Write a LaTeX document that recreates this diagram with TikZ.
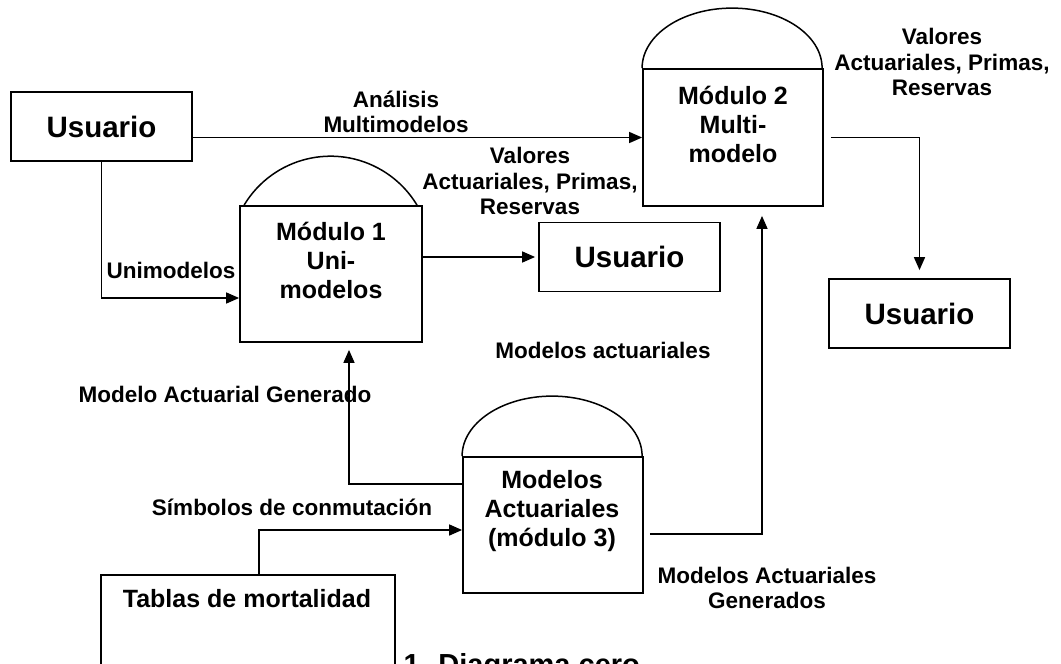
\documentclass[tikz,border=0pt]{standalone}
\usepackage{fontspec}
\setmainfont{Liberation Sans}
\usetikzlibrary{arrows.meta}

\tikzset{
  lab/.style={font=\bfseries\fontsize{22.5}{25.5}\selectfont, align=center, inner sep=0pt},
  userbox/.style={draw, line width=1.8pt, minimum width=181pt, minimum height=69pt, font=\bfseries\fontsize{29.5}{34}\selectfont},
  modbox/.style={draw, line width=1.8pt, minimum width=180pt, minimum height=136pt},
  modtext/.style={font=\bfseries\fontsize{25}{29}\selectfont, align=center, inner sep=0pt},
  flow/.style={line width=1.6pt, -{Triangle[length=13pt,width=11pt]}},
}

\begin{document}
\begin{tikzpicture}[x=1pt, y=-1pt]
	\useasboundingbox (0,0) rectangle (1061,664);
	
	% usuarios
	\node[userbox] (u1) at (101.5,126.5) {Usuario};
	\node[userbox] (u2) at (629.5,257) {Usuario};
	\node[userbox] (u3) at (919.5,313.5) {Usuario};
	
	% modulos
	\node[modbox, minimum width=182pt] (m1) at (331,274) {};
	\node[modtext] (m1txt) at (331,260) {Módulo 1\\Uni-\\modelos};
	\draw[line width=1.5pt] (m1.north west) ++(5,0) arc[start angle=149, end angle=31, radius=100.85pt];
	
	\node[modbox, minimum height=137pt] (m2) at (733,137.5) {};
	\node[modtext] (m2txt) at (733,124) {Módulo 2\\Multi-\\modelo};
	\draw[line width=1.5pt] (m2.north west) arc[start angle=180, end angle=0, x radius=90pt, y radius=60pt];
	
	\node[modbox] (m3) at (553,525) {};
	\node[modtext] (m3txt) at (552,511) {Modelos\\Actuariales\\(módulo 3)};
	\draw[line width=1.5pt] (m3.north west) arc[start angle=180, end angle=0, x radius=90pt, y radius=60pt];
	
	% tablas
	\node[anchor=base west, font=\bfseries\fontsize{29}{33}\selectfont] (cap) at (400,674) {1. Diagrama cero};
	\node[draw, fill=white, line width=1.8pt, minimum width=294pt, minimum height=130pt, anchor=north] (tab) at (248,574) {};
	\node[modtext] (tabtxt) at (247,599) {Tablas de mortalidad};
	
	% flujos
	\draw[flow] (u1.east |- m2.west) -- (m2.west);
	\draw[flow] (u1.south) |- ([yshift=-24pt]m1.west);
	\draw[flow, shorten >=3pt] (m1.east |- u2.west) -- (u2.west);
	\draw[flow, shorten <=7pt, shorten >=8pt] (m2.east) -| (u3.north);
	\draw[flow, shorten <=6pt, shorten >=9pt] ([yshift=-9pt]m3.east) -| ([xshift=29pt]m2.south);
	\draw[flow, shorten >=7pt] ([yshift=41pt]m3.west) -| ([xshift=18pt]m1.south);
	\draw[flow] ([xshift=11pt]tab.north) |- ([yshift=-5pt]m3.west);
	
	% etiquetas
	\node[lab] (l1) at (396,112) {Análisis\\Multimodelos};
	\node[lab] (l2) at (171,270) {Unimodelos};
	\node[lab] (l3) at (530,181) {Valores\\Actuariales, Primas,\\Reservas};
	\node[lab] (l4) at (942,62) {Valores\\Actuariales, Primas,\\Reservas};
	\node[lab] (l5) at (603,350) {Modelos actuariales};
	\node[lab] (l6) at (225,394) {Modelo Actuarial Generado};
	\node[lab] (l7) at (292,507) {Símbolos de conmutación};
	\node[lab] (l8) at (767,588) {Modelos Actuariales\\Generados};
\end{tikzpicture}
\end{document}
